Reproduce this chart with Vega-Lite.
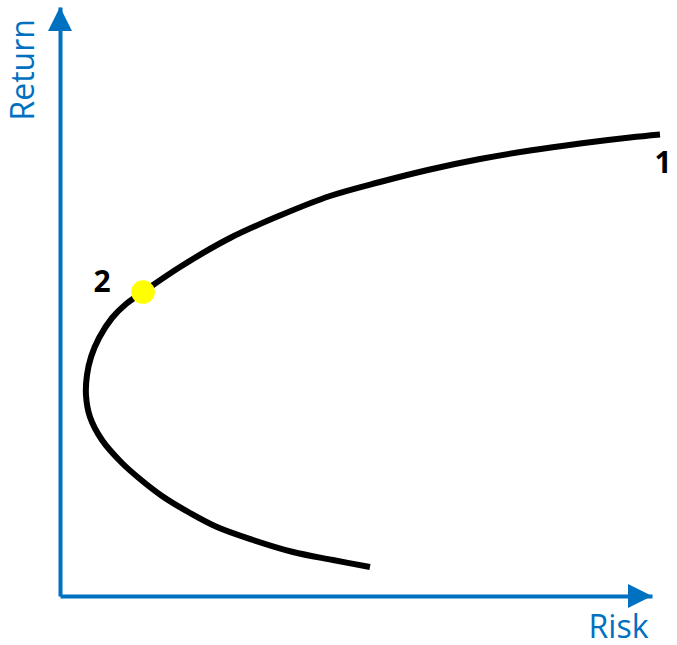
{
  "$schema": "https://vega.github.io/schema/vega-lite/v6.json",
  "width": 592,
  "height": 589,
  "autosize": {"type": "none"},
  "padding": {"left": 60, "top": 7, "right": 25, "bottom": 49},
  "background": "white",
  "config": {
    "view": {"stroke": null},
    "axis": {
      "grid": false,
      "ticks": false,
      "labels": false,
      "domainColor": "#0070C0",
      "domainWidth": 4,
      "titleColor": "#0070C0",
      "titleFont": "Open Sans",
      "titleFontSize": 32,
      "titleFontWeight": "normal"
    }
  },
  "layer": [
    {
      "data": {"values": [
        {"i": 1, "risk": 52.36, "ret": 4.92},
        {"i": 2, "risk": 46.11, "ret": 6.11},
        {"i": 3, "risk": 39.36, "ret": 7.47},
        {"i": 4, "risk": 32.60, "ret": 9.51},
        {"i": 5, "risk": 26.52, "ret": 11.71},
        {"i": 6, "risk": 21.96, "ret": 14.09},
        {"i": 7, "risk": 17.23, "ret": 16.98},
        {"i": 8, "risk": 13.51, "ret": 19.86},
        {"i": 9, "risk": 10.47, "ret": 22.58},
        {"i": 10, "risk": 7.09, "ret": 26.49},
        {"i": 11, "risk": 5.07, "ret": 30.39},
        {"i": 12, "risk": 4.39, "ret": 34.13},
        {"i": 13, "risk": 4.56, "ret": 37.52},
        {"i": 14, "risk": 5.24, "ret": 40.58},
        {"i": 15, "risk": 6.59, "ret": 43.80},
        {"i": 16, "risk": 8.78, "ret": 47.20},
        {"i": 17, "risk": 11.15, "ret": 49.58},
        {"i": 18, "risk": 14.02, "ret": 51.61},
        {"i": 19, "risk": 20.27, "ret": 55.86},
        {"i": 20, "risk": 28.72, "ret": 60.78},
        {"i": 21, "risk": 37.16, "ret": 64.60},
        {"i": 22, "risk": 45.61, "ret": 67.91},
        {"i": 23, "risk": 54.05, "ret": 70.29},
        {"i": 24, "risk": 62.50, "ret": 72.41},
        {"i": 25, "risk": 70.95, "ret": 74.19},
        {"i": 26, "risk": 79.39, "ret": 75.64},
        {"i": 27, "risk": 87.84, "ret": 76.83},
        {"i": 28, "risk": 96.28, "ret": 77.84},
        {"i": 29, "risk": 101.35, "ret": 78.35}
      ]},
      "mark": {"type": "line", "color": "black", "strokeWidth": 6, "interpolate": "catmull-rom"},
      "encoding": {
        "x": {
          "field": "risk", "type": "quantitative",
          "scale": {"domain": [0, 100], "nice": false, "zero": false},
          "axis": {"title": "Risk", "titleX": 588, "titleY": 41, "titleAlign": "right", "titleBaseline": "alphabetic", "titleAnchor": null}
        },
        "y": {
          "field": "ret", "type": "quantitative",
          "scale": {"domain": [0, 100], "nice": false, "zero": false},
          "axis": {"title": "Return", "titleX": -27, "titleY": 113, "titleAngle": -90, "titleAlign": "left", "titleBaseline": "alphabetic", "titleAnchor": null}
        },
        "order": {"field": "i", "type": "quantitative"}
      }
    },
    {
      "data": {"values": [{"risk": 14.02, "ret": 51.61}]},
      "mark": {"type": "point", "shape": "circle", "filled": true, "color": "#FFFF00", "opacity": 1, "size": 560},
      "encoding": {
        "x": {"field": "risk", "type": "quantitative"},
        "y": {"field": "ret", "type": "quantitative"}
      }
    },
    {
      "data": {"values": [
        {"risk": 7.09, "ret": 53.14, "label": "2"},
        {"risk": 101.86, "ret": 73.34, "label": "1"}
      ]},
      "mark": {"type": "text", "font": "Open Sans", "fontWeight": "bold", "fontSize": 30, "color": "black", "align": "center", "baseline": "middle"},
      "encoding": {
        "x": {"field": "risk", "type": "quantitative"},
        "y": {"field": "ret", "type": "quantitative"},
        "text": {"field": "label"}
      }
    },
    {
      "data": {"values": [{"risk": 0, "ret": 100}]},
      "mark": {"type": "point", "shape": "M0,0L1,2L-1,2Z", "filled": true, "color": "#0070C0", "opacity": 1, "size": 576},
      "encoding": {
        "x": {"field": "risk", "type": "quantitative"},
        "y": {"field": "ret", "type": "quantitative"}
      }
    },
    {
      "data": {"values": [{"risk": 100, "ret": 0}]},
      "mark": {"type": "point", "shape": "M0,0L-2,-1L-2,1Z", "filled": true, "color": "#0070C0", "opacity": 1, "size": 576},
      "encoding": {
        "x": {"field": "risk", "type": "quantitative"},
        "y": {"field": "ret", "type": "quantitative"}
      }
    }
  ]
}
